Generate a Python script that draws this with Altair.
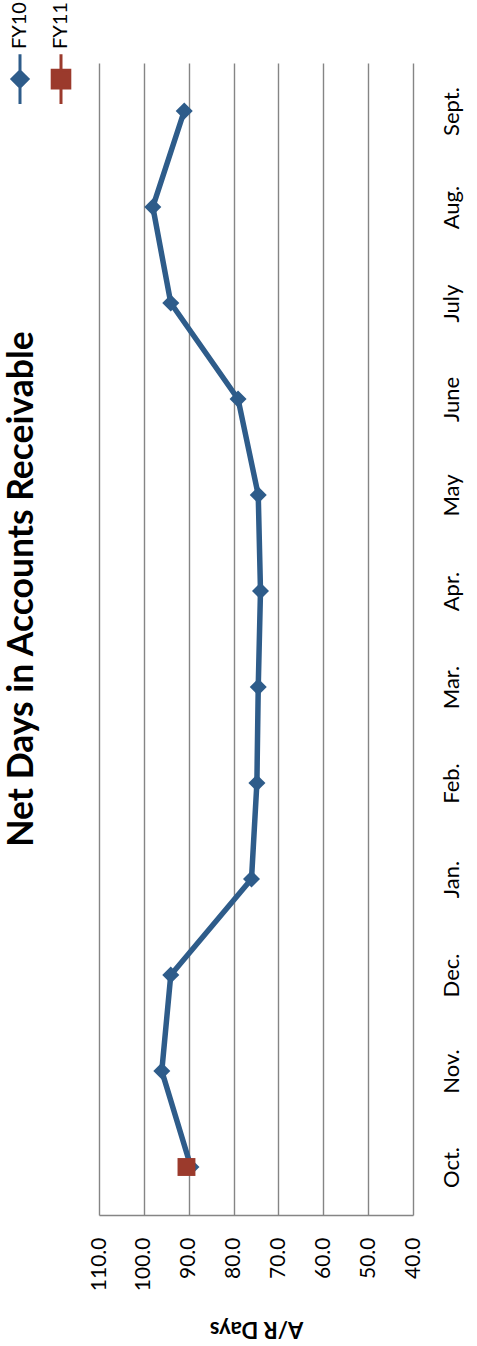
import altair as alt
import pandas as pd

months = ["Oct.", "Nov.", "Dec.", "Jan.", "Feb.", "Mar.", "Apr.", "May",
          "June", "July", "Aug.", "Sept."]
fy10_days = [89.5, 96.0, 94.0, 76.0, 74.8, 74.5, 74.0, 74.5, 79.0, 94.0, 98.0, 91.0]
fy11_months = ["Oct."]
fy11_days = [90.5]
series_names = ["FY10", "FY11"]
series_colors = ["#2E5C8A", "#9B3A2C"]
series_shapes = ["diamond", "square"]
series_sizes = [290, 320]
x_ticks = [110, 100, 90, 80, 70, 60, 50, 40]

df = pd.DataFrame({
    "month": months + fy11_months,
    "days": fy10_days + fy11_days,
    "series": [series_names[0]] * len(months) + [series_names[1]] * len(fy11_months),
})

FONT = "Lato"
GRID = "#858585"

x_enc = alt.X(
    "days:Q",
    scale=alt.Scale(domain=[40, 110], reverse=True, nice=False, zero=False),
    axis=alt.Axis(
        values=x_ticks, format=".1f", title="A/R Days",
        labelAngle=270, labelFont=FONT, labelFontSize=21, labelColor="black",
        labelPadding=22, ticks=False, grid=True, gridColor=GRID, gridWidth=1.4,
        domainColor=GRID, domainWidth=1.4,
        titleAngle=180, titleBaseline="bottom", titleFont=FONT, titleFontSize=22,
        titleFontWeight="bold", titleColor="black", titlePadding=26,
    ),
)
y_enc = alt.Y(
    "month:N", sort=list(reversed(months)),
    axis=alt.Axis(
        orient="right", title=None, labelAngle=270, labelAlign="center",
        labelBaseline="top", labelPadding=28, ticks=False, domain=False, grid=False,
        labelFont=FONT, labelFontSize=22, labelColor="black",
    ),
)

legend = alt.Legend(
    title=None, orient="none", legendX=-89, legendY=6, direction="horizontal",
    labelFont=FONT, labelFontSize=20, labelColor="black",
    labelOffset=0, columnPadding=12,
)

# legend keys: marker with a short stroke through it, drawn upright like the rotated chart
shape_signal = (
    f"datum.value === '{series_names[0]}' ? "
    "'M0,-3.1V3.1M-1,0L0,-1L1,0L0,1Z' : 'M0,-3.1V3.1M-1.1,-1.1H1.1V1.1H-1.1Z'"
)
legend_encode = {
    "symbols": {"update": {
        "shape": {"signal": shape_signal},
        "size": {"value": 256},
        "fill": {"scale": "color", "field": "value"},
        "stroke": {"scale": "color", "field": "value"},
        "strokeWidth": {"value": 3},
        "opacity": {"value": 1},
    }},
    "labels": {"update": {
        "angle": {"value": 270},
        "align": {"value": "left"},
        "baseline": {"value": "middle"},
        "dx": {"value": 30},
        "dy": {"value": -10},
    }},
}


def _inject(node):
    if isinstance(node, dict):
        for k, v in node.items():
            if k == "color" and isinstance(v, dict) and isinstance(v.get("legend"), dict):
                v["legend"]["encode"] = legend_encode
            else:
                _inject(v)
    elif isinstance(node, list):
        for v in node:
            _inject(v)


class RotatedLegendLayer(alt.LayerChart):
    def to_dict(self, *args, **kwargs):
        kwargs["validate"] = False
        spec = super().to_dict(*args, **kwargs)
        _inject(spec)
        return spec


color_enc = alt.Color("series:N", scale=alt.Scale(domain=series_names, range=series_colors),
                      legend=legend)

line = alt.Chart(df).mark_line(strokeWidth=5.5).encode(x=x_enc, y=y_enc, color=color_enc)
point_layers = [
    alt.Chart(df).transform_filter(alt.datum.series == name)
    .mark_point(filled=True, opacity=1, shape=shp, size=sz)
    .encode(x=x_enc, y=y_enc, color=color_enc)
    for name, shp, sz in zip(series_names, series_shapes, series_sizes)
]

chart = RotatedLegendLayer(layer=[line] + point_layers).properties(
    width=314, height=1152,
    padding={"left": 99, "top": 63, "right": 64, "bottom": 131},
    autosize=alt.AutoSizeParams(type="none"),
    background="white",
    title=alt.TitleParams(
        text="Net Days in Accounts Receivable", orient="left", anchor="middle",
        angle=270, baseline="top", font=FONT, fontSize=35.5, fontWeight="bold",
        color="black", offset=-30, dx=50, frame="group",
    ),
).configure_view(stroke=None)

chart.save("out.html", embed_options={"renderer": "svg", "actions": False})
